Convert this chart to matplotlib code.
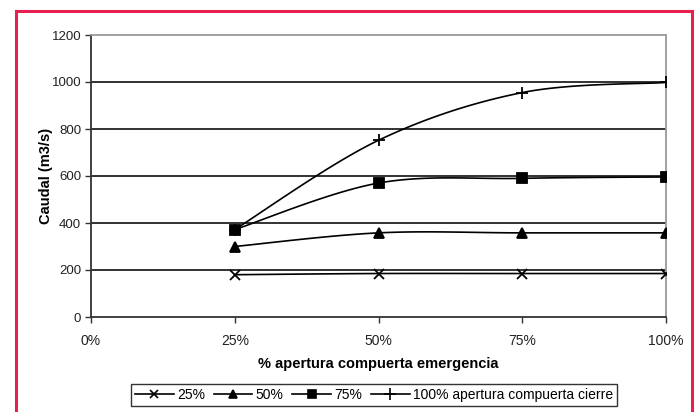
import numpy as np
import matplotlib
matplotlib.use("Agg")
import matplotlib.pyplot as plt
from matplotlib.patches import Rectangle
from matplotlib.ticker import FuncFormatter

plt.rcParams['font.family'] = ['Liberation Sans', 'DejaVu Sans']

# % opening of the emergency gate
apertura = [25, 50, 75, 100]
# Flow (m3/s) for each opening of the closing gate
q_25 = [180, 185, 185, 185]
q_50 = [300, 358, 358, 358]
q_75 = [372, 570, 590, 596]
q_100 = [372, 752, 955, 998]

series = [
    ("25%", q_25, "x", 7),
    ("50%", q_50, "^", 7),
    ("75%", q_75, "s", 7),
    ("100% apertura compuerta cierre", q_100, "+", 9),
]


def smooth(xs, ys, n=40):
    """Cubic Bezier smoothing through the points (spreadsheet-style)."""
    p = np.column_stack([xs, ys]).astype(float)
    pts = np.vstack([p[0], p, p[-1]])
    out = []
    for i in range(1, len(pts) - 2):
        p0, p1, p2, p3 = pts[i - 1], pts[i], pts[i + 1], pts[i + 2]
        c1 = p1 + (p2 - p0) / 6.0
        c2 = p2 - (p3 - p1) / 6.0
        t = np.linspace(0, 1, n)[:, None]
        seg = ((1 - t) ** 3) * p1 + 3 * ((1 - t) ** 2) * t * c1 \
            + 3 * (1 - t) * t ** 2 * c2 + t ** 3 * p2
        out.append(seg if i == 1 else seg[1:])
    c = np.vstack(out)
    return c[:, 0], c[:, 1]


fig = plt.figure(figsize=(6.97, 4.12), dpi=100)
ax = fig.add_axes([91 / 697, 1 - 317 / 412, 575 / 697, 282 / 412])

for label, ys, mk, ms in series:
    sx, sy = smooth(apertura, ys)
    ax.plot(sx, sy, color="black", lw=1.2, zorder=3)
    ax.plot(apertura, ys, linestyle="none", marker=mk, markersize=ms,
            color="black", markeredgewidth=1.3, zorder=4)

ax.set_xlim(0, 100)
ax.set_ylim(0, 1200)
ax.set_xticks([0, 25, 50, 75, 100])
ax.xaxis.set_major_formatter(FuncFormatter(lambda v, _: f"{v:.0f}%"))
ax.set_yticks(range(0, 1201, 200))

for yv in range(200, 1200, 200):
    ax.axhline(yv, color="#222222", lw=1.3, zorder=1)

for side in ("top", "right"):
    ax.spines[side].set_color("#9a9a9a")
    ax.spines[side].set_linewidth(1.3)
for side in ("left", "bottom"):
    ax.spines[side].set_color("#333333")
    ax.spines[side].set_linewidth(1.3)

ax.tick_params(axis="both", direction="out", length=4, width=1.0,
               color="#333333", labelsize=10, labelcolor="#222222")
ax.tick_params(axis="y", labelsize=9.5, pad=3)
ax.tick_params(axis="x", pad=8)

ax.set_xlabel("% apertura compuerta emergencia", fontsize=10.5,
              fontweight="bold", labelpad=7)
ax.set_ylabel("Caudal (m3/s)", fontsize=10.5, fontweight="bold")
ax.yaxis.set_label_coords(-0.066, 0.5)

handles = [plt.Line2D([], [], color="black", lw=1.2, marker=mk,
                      markersize=ms - 1, markeredgewidth=1.2)
           for _, _, mk, ms in series]
leg = fig.legend(handles, [s[0] for s in series], loc="center",
                 bbox_to_anchor=(374 / 697, 1 - 395 / 412), ncol=4,
                 fontsize=10, frameon=True, fancybox=False,
                 handlelength=2.8, handletextpad=0.25, columnspacing=0.6,
                 borderpad=0.3, edgecolor="black")
leg.get_frame().set_linewidth(1.0)

fig.patches.append(Rectangle((16 / 697, -0.05), 676 / 697, 1.05 - 11 / 412,
                             transform=fig.transFigure, fill=False,
                             edgecolor="#e8204f", linewidth=2.2))

fig.savefig("out.png", dpi=100)
